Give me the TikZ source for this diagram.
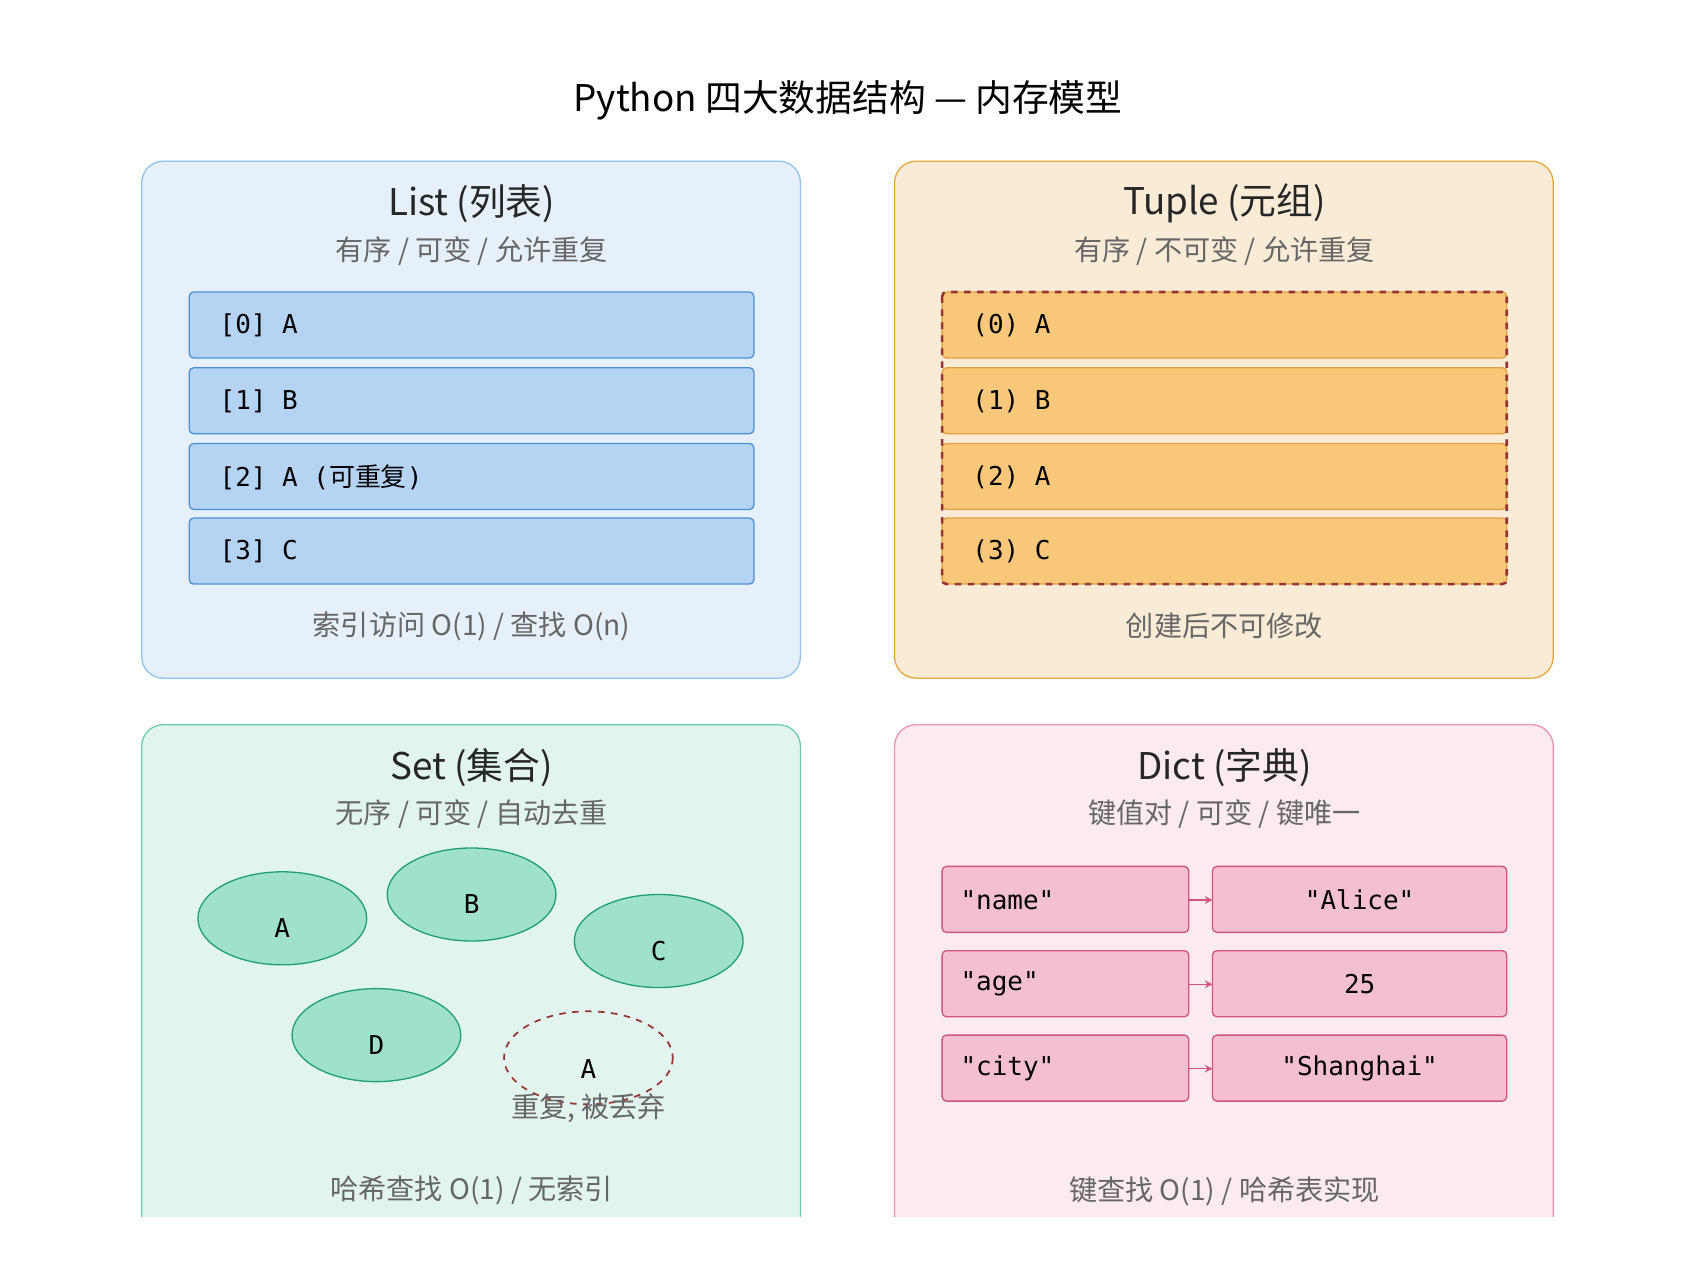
\documentclass[tikz,border=0pt]{standalone}
\usepackage{fontspec}
\setmainfont{Noto Sans CJK SC}
\newfontfamily\monof{DejaVu Sans Mono}
\newfontfamily\cjk{Noto Sans CJK SC}
\definecolor{lpan}{HTML}{E6F0FA}\definecolor{lpanb}{HTML}{90C4F0}
\definecolor{lrowf}{HTML}{B5D4F4}\definecolor{lrowb}{HTML}{4A90D9}
\definecolor{tpan}{HTML}{FAEBD7}\definecolor{tpanb}{HTML}{E8A838}
\definecolor{trowf}{HTML}{F8C77A}\definecolor{trowb}{HTML}{E0A040}
\definecolor{span}{HTML}{E1F5EE}\definecolor{spanb}{HTML}{6CCBA8}
\definecolor{ellf}{HTML}{9FE1CB}\definecolor{ellb}{HTML}{1D9E75}
\definecolor{dpan}{HTML}{FBEAF0}\definecolor{dpanb}{HTML}{ED93B1}
\definecolor{drowf}{HTML}{F4C0D1}\definecolor{drowb}{HTML}{D4537E}
\definecolor{dashcol}{HTML}{993333}
\begin{document}
\begin{tikzpicture}[x=0.5pt,y=-0.5pt,
 panel/.style={rounded corners=10pt,line width=0.6pt},
 ttl/.style={font=\fontsize{17}{20}\selectfont,text=black!85},
 sub/.style={font=\fontsize{13}{16}\selectfont,text=black!60},
 foot/.style={font=\fontsize{13}{16}\selectfont,text=black!60},
 code/.style={font=\monof\fontsize{12}{14}\selectfont},
 lrow/.style={draw=lrowb,fill=lrowf,rounded corners=2pt,line width=0.6pt},
 trow/.style={draw=trowb,fill=trowf,rounded corners=2pt,line width=0.6pt},
 drow/.style={draw=drowb,fill=drowf,rounded corners=2pt,line width=0.6pt},
 ell/.style={draw=ellb,fill=ellf,line width=0.6pt},
 ar/.style={->,>=stealth,draw=drowb,line width=0.6pt}]
\useasboundingbox (0,0) rectangle (1568,1170);
\node[font=\fontsize{17}{20}\selectfont] (title) at (784,93) {Python 四大数据结构 — 内存模型};
\begin{scope}
\clip (0,0) rectangle (1568,1125);
\draw[panel,fill=lpan,draw=lpanb] (131,149) rectangle (740,627);
\draw[panel,fill=tpan,draw=tpanb] (827,149) rectangle (1436,627);
\draw[panel,fill=span,draw=spanb] (131,670) rectangle (740,1160);
\draw[panel,fill=dpan,draw=dpanb] (827,670) rectangle (1436,1160);
\end{scope}
% List
\node[ttl] (lt) at (436,188) {List (列表)};
\node[sub] (ls) at (436,232) {有序 / 可变 / 允许重复};
\foreach \i/\y/\t in {0/270/{[0] A},1/340/{[1] B},2/410/{[2] A ({\cjk 可重复})},3/479/{[3] C}}{
 \draw[lrow] (175,\y) rectangle (697,\y+61);
 \node[code,anchor=west] (l\i) at (196,\y+31) {\t};}
\node[foot] (lf) at (436,579) {索引访问 O(1) / 查找 O(n)};
% Tuple
\node[ttl] (tt) at (1132,188) {Tuple (元组)};
\node[sub] (ts) at (1132,232) {有序 / 不可变 / 允许重复};
\foreach \i/\y in {0/270,1/340,2/410,3/479}{
 \draw[trow] (871,\y) rectangle (1393,\y+61);
 \node[code,anchor=west] (t\i) at (892,\y+31) {(\i) \ifcase\i A\or B\or A\or C\fi};}
\draw[draw=dashcol,dashed,line width=1.2pt,rounded corners=2pt] (871,270) rectangle (1393,540);
\node[foot] (tf) at (1132,579) {创建后不可修改};
% Set
\node[ttl] (st) at (436,710) {Set (集合)};
\node[sub] (ss) at (436,753) {无序 / 可变 / 自动去重};
\foreach \n/\x/\y/\t in {sa/261/849/A,sb/436/827/B,sc/609/870/C,sd/348/957/D}{
 \draw[ell] (\x,\y) ellipse [x radius=78,y radius=43];
 \node[code] (\n) at (\x,\y+9) {\t};}
\draw[draw=dashcol,dashed,line width=0.8pt] (544,978) ellipse [x radius=78,y radius=43];
\node[code] (sx) at (544,988) {A};
\node[sub] (sxl) at (544,1025) {重复, 被丢弃};
\node[foot] (sf) at (436,1101) {哈希查找 O(1) / 无索引};
% Dict
\node[ttl] (dt) at (1132,710) {Dict (字典)};
\node[sub] (ds) at (1132,753) {键值对 / 可变 / 键唯一};
\foreach \i/\y/\k/\v in {1/801/"name"/"Alice",2/879/"age"/25,3/957/"city"/"Shanghai"}{
 \draw[drow] (871,\y) rectangle (1099,\y+61);
 \draw[drow] (1121,\y) rectangle (1393,\y+61);
 \node[code,anchor=west] (k\i) at (881,\y+31) {\k};
 \node[code] (v\i) at (1257,\y+31) {\v};
 \coordinate (ka\i) at (1099,\y+31); \coordinate (va\i) at (1121,\y+31);
 \draw[ar] (ka\i) -- (va\i);}
\node[foot] (df) at (1132,1101) {键查找 O(1) / 哈希表实现};
\end{tikzpicture}
\end{document}
